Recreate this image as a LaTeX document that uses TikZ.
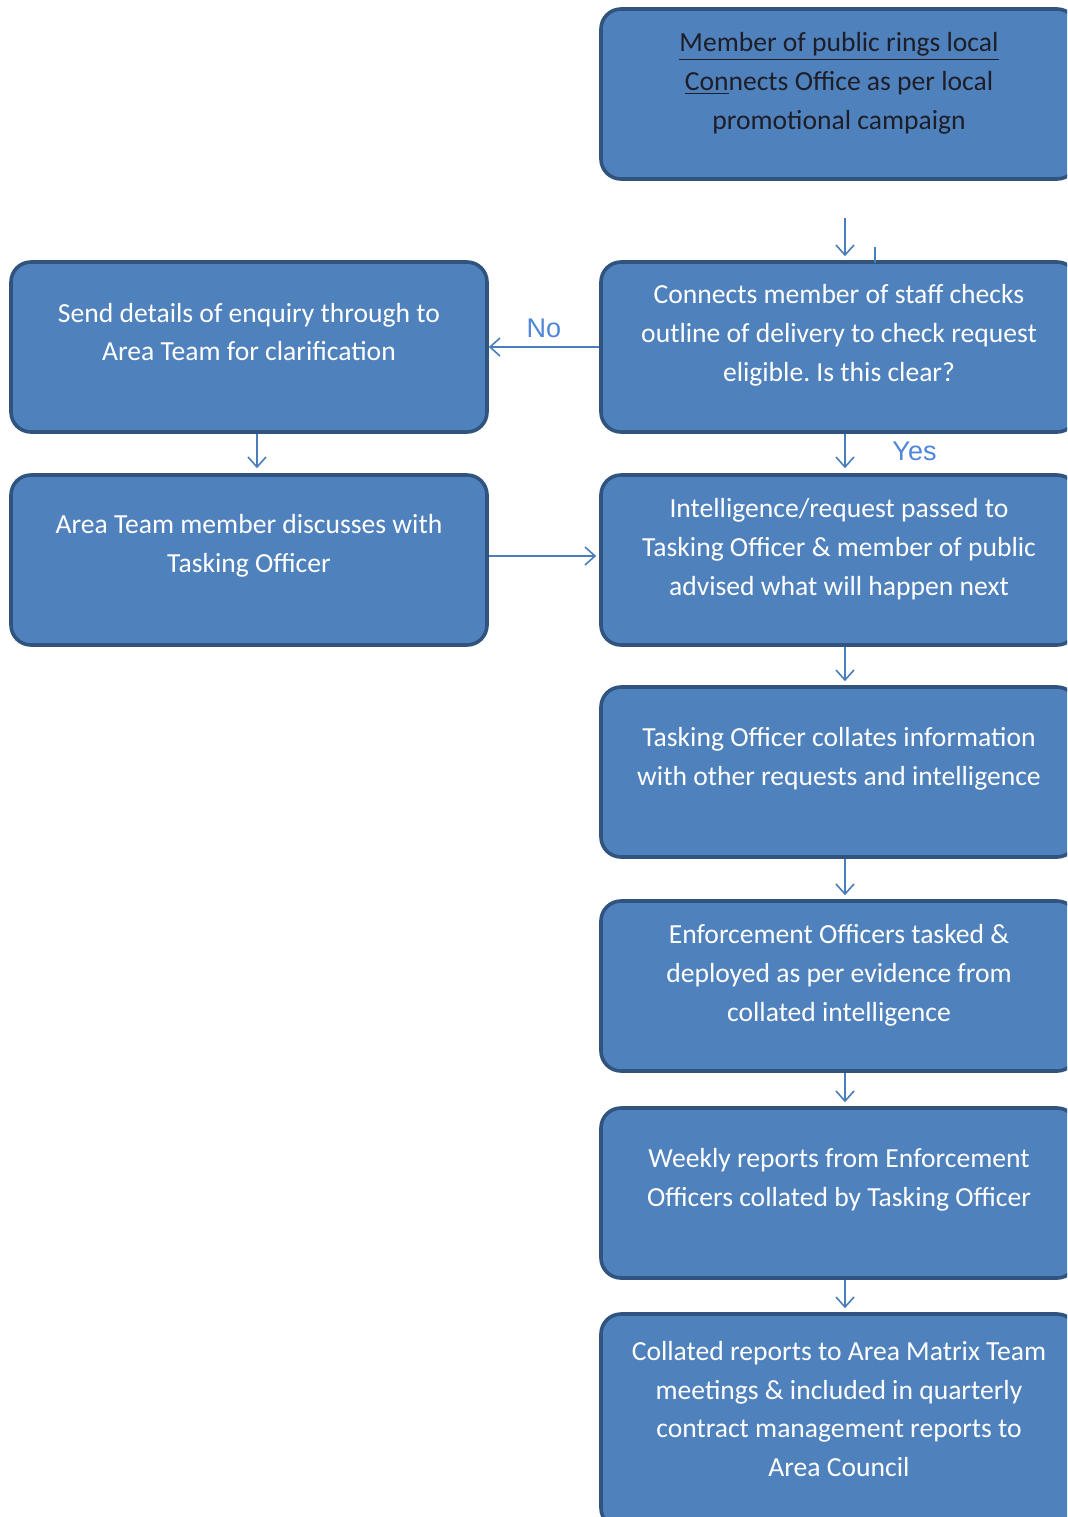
\documentclass[tikz,border=0pt]{standalone}
\usepackage{fontspec}
\setmainfont{Carlito}
\newfontfamily\labelfont{Liberation Sans}
\usetikzlibrary{arrows.meta,positioning}
\frenchspacing
\definecolor{boxfill}{HTML}{4F81BD}
\definecolor{boxline}{HTML}{31547F}
\definecolor{flowline}{HTML}{4A7EBB}
\definecolor{labelblue}{HTML}{4F86DA}
\definecolor{darktext}{HTML}{1E1E28}
\tikzset{
  stepbox/.style={draw=boxline, fill=boxfill, line width=1.8pt,
    rounded corners=10pt, minimum width=238pt, minimum height=85pt, inner sep=0pt},
  steptext/.style={text=white, align=center, inner sep=0pt,
    font=\fontsize{13.8}{19.4}\selectfont},
  flow/.style={draw=flowline, line width=0.8pt,
    -{Straight Barb[length=5pt,width=9pt]}},
  flowlabel/.style={text=labelblue, font=\labelfont\fontsize{13.5}{15}\selectfont}
}
\begin{document}
\begin{tikzpicture}[x=0.5pt,y=-0.5pt]
    \clip (0,0) rectangle (1067,1517);
    \fill[white] (0,0) rectangle (1067,1517);

    % Right column
    \node[stepbox] (b1) at (839,94) {};
    \node[steptext, text=darktext] (t1) at (839,83)
      {\underline{Member of public rings local}\\
       \underline{Con}nects Office as per local\\promotional campaign};
    \node[stepbox] (b2) at (839,347) {};
    \node[steptext] (t2) at (839,335)
      {Connects member of staff checks\\outline of delivery to check request\\eligible. Is this clear?};
    \node[stepbox] (b3) at (839,560) {};
    \node[steptext] (t3) at (839,549)
      {Intelligence/request passed to\\Tasking Officer \& member of public\\advised what will happen next};
    \node[stepbox] (b4) at (839,772) {};
    \node[steptext] (t4) at (839,759)
      {Tasking Officer collates information\\with other requests and intelligence};
    \node[stepbox] (b5) at (839,986) {};
    \node[steptext] (t5) at (839,975)
      {Enforcement Officers tasked \&\\deployed as per evidence from\\collated intelligence};
    \node[stepbox] (b6) at (839,1193) {};
    \node[steptext] (t6) at (839,1180)
      {Weekly reports from Enforcement\\Officers collated by Tasking Officer};
    \node[stepbox, minimum height=107pt] (b7) at (839,1421) {};
    \node[steptext] (t7) at (839,1409)
      {Collated reports to Area Matrix Team\\meetings \& included in quarterly\\contract management reports to\\Area Council};

    % Left column
    \node[stepbox] (l1) at (249,347) {};
    \node[steptext] (tl1) at (249,332)
      {Send details of enquiry through to\\Area Team for clarification};
    \node[stepbox] (l2) at (249,560) {};
    \node[steptext] (tl2) at (249,546)
      {Area Team member discusses with\\Tasking Officer};

    % Connectors
    \coordinate (top) at (845,218);
    \draw[flow] (top) -- ([xshift=3pt,yshift=2pt]b2.north);
    \coordinate (tick) at (875,247);
    \draw[flowline, line width=0.8pt] (tick) -- ++(0,16);
    \draw[flow] (b2.west) -- (l1.east)
      node[midway, above, flowlabel, yshift=1pt] (no) {No};
    \draw[flow] ([xshift=3pt]b2.south) -- ([xshift=3pt,yshift=2.5pt]b3.north)
      node[midway, right, flowlabel, xshift=20pt] (yes) {Yes};
    \draw[flow] ([xshift=4pt]l1.south) -- ([xshift=4pt,yshift=2.5pt]l2.north);
    \draw[flow] ([yshift=2pt]l2.east) -- ([xshift=-1.5pt,yshift=2pt]b3.west);
    \foreach \a/\b in {b3/b4,b4/b5,b5/b6,b6/b7}
      \draw[flow] ([xshift=3pt]\a.south) -- ([xshift=3pt,yshift=2pt]\b.north);
\end{tikzpicture}
\end{document}
